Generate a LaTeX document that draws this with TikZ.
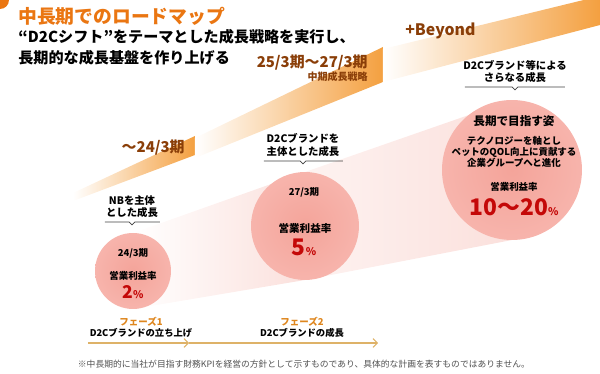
\documentclass[tikz,border=0pt]{standalone}
\usepackage{fontspec}
\setmainfont{Noto Sans CJK JP}
\usetikzlibrary{arrows.meta}

\definecolor{titleorange}{RGB}{234,118,18}
\definecolor{bandorange}{RGB}{244,160,64}
\definecolor{bandbrown}{RGB}{138,62,8}
\definecolor{phaseorange}{RGB}{222,134,30}
\definecolor{phaseline}{RGB}{222,178,104}
\definecolor{circin}{RGB}{244,164,154}
\definecolor{circout}{RGB}{247,180,172}
\definecolor{beampink}{RGB}{251,224,220}
\definecolor{pctred}{RGB}{196,8,8}
\definecolor{notegray}{RGB}{80,80,80}

\tikzset{
  txt/.style={inner sep=0pt, font=\bfseries},
  lbl/.style={txt, align=center, font=\bfseries\fontsize{5.9}{6.9}\selectfont},
  bandlbl/.style={txt, text=bandbrown, anchor=east, font=\bfseries\fontsize{8.5}{9}\selectfont},
  stage/.style={circle, inner sep=0pt, shading=radial, inner color=circin, outer color=circout},
  small/.style={txt, font=\bfseries\fontsize{5.4}{6.3}\selectfont, align=center},
  pct/.style={txt, text=pctred},
  notch/.style={draw=black!75, line width=0.4pt},
  phasearrow/.style={draw=phaseline, line width=0.6pt, -{Straight Barb[length=2.4pt,width=5pt]}},
}

\newcommand{\pcttext}[2]{{\fontsize{#1}{#1}\selectfont #2}{\fontsize{6}{6}\selectfont\%}}

\begin{document}
\begin{tikzpicture}[x=0.02cm,y=-0.02cm]
    \useasboundingbox (0,0) rectangle (600,374);
    \clip (0,0) rectangle (600,374);

    % corner mark
    \fill[titleorange] (0,0) circle (9);

    % orange period bands
    \shade[left color=white, right color=bandorange] (73,193) -- (195,136) -- (195,155) -- (73,201) -- cycle;
    \shade[left color=white, right color=bandorange] (195,138) -- (383,47) -- (383,82) -- (195,158) -- cycle;
    \shade[left color=white, right color=bandorange] (383,49) -- (600,-4) -- (600,25) -- (383,82) -- cycle;

    % pink beams between stages
    \shade[left color=white, right color=beampink] (133,233) -- (305,172) -- (305,280) -- (133,309) -- cycle;
    \shade[left color=beampink!40, right color=beampink] (305,172) -- (512,100) -- (512,240) -- (305,280) -- cycle;

    % stage circles
    \node[stage, minimum size=1.52cm] (c1) at (133,271) {};
    \node[stage, minimum size=2.16cm] (c2) at (305,226) {};
    \node[stage, minimum size=2.80cm] (c3) at (512,170) {};

    % title
    \node[txt, anchor=west, text=titleorange, font=\bfseries\fontsize{10.7}{12}\selectfont] (title) at (18,16.5) {中長期でのロードマップ};
    \node[txt, anchor=west, font=\bfseries\fontsize{8.6}{10}\selectfont] (sub1) at (18,37) {“D2Cシフト”をテーマとした成長戦略を実行し、};
    \node[txt, anchor=west, font=\bfseries\fontsize{8.6}{10}\selectfont] (sub2) at (18,58) {長期的な成長基盤を作り上げる};

    % band labels
    \node[bandlbl] (b1) at (185,148) {～24/3期};
    \node[bandlbl] (b2) at (368,63) {25/3期～27/3期};
    \node[bandlbl, font=\bfseries\fontsize{5.7}{6}\selectfont] (b2s) at (368,77) {中期成長戦略};
    \node[bandlbl, anchor=west, font=\bfseries\fontsize{9}{10}\selectfont] (b3) at (405,31) {+Beyond};

    % growth labels
    \node[lbl] (l1) at (132,207) {NBを主体\\とした成長};
    \draw[notch] (105,222) -- (129,222) -- (132,225) -- (135,222) -- (160,222);
    \node[lbl] (l2) at (303,145) {D2Cブランドを\\主体とした成長};
    \draw[notch] (264,161) -- (300,161) -- (303,164) -- (306,161) -- (343,161);
    \node[lbl] (l3) at (515,71.5) {D2Cブランド等による\\さらなる成長};
    \draw[notch] (465,87) -- (512,87) -- (515,90) -- (518,87) -- (565,87);

    % stage 1
    \node[small] (y1) at (133,253) {24/3期};
    \node[small] (r1) at (133,276) {営業利益率};
    \node[pct] (v1) at (133,292) {\pcttext{10}{2}};

    % stage 2
    \node[small] (y2) at (304,192) {27/3期};
    \node[small, font=\bfseries\fontsize{6}{7}\selectfont] (r2) at (305,228) {営業利益率};
    \node[pct] (v2) at (304,247) {\pcttext{13}{5}};

    % stage 3
    \node[txt, font=\bfseries\fontsize{6.6}{7}\selectfont] (g3) at (514,121) {長期で目指す姿};
    \node[small] (d3) at (514,152) {テクノロジーを軸とし\\ペットのQOL向上に貢献する\\企業グループへと進化};
    \node[small] (r3) at (514,187) {営業利益率};
    \node[pct] (v3) at (514,207) {\pcttext{13}{10～20}};

    % phases
    \node[txt, text=phaseorange, font=\bfseries\fontsize{5.4}{6}\selectfont] (f1) at (141,322) {フェーズ1};
    \node[txt, font=\bfseries\fontsize{5.3}{6}\selectfont] (f1d) at (141,333) {D2Cブランドの立ち上げ};
    \node[txt, text=phaseorange, font=\bfseries\fontsize{5.4}{6}\selectfont] (f2) at (302,322) {フェーズ2};
    \node[txt, font=\bfseries\fontsize{5.3}{6}\selectfont] (f2d) at (302,333) {D2Cブランドの成長};
    \coordinate (p0) at (88,343);
    \coordinate (p1) at (189,343);
    \coordinate (p2) at (378,343);
    \draw[phasearrow] (p0) -- (p1);
    \draw[phasearrow] (p1) -- (p2);

    % footnote
    \node[txt, text=notegray, font=\fontsize{5}{6}\selectfont] (note) at (304,364) {※中長期的に当社が目指す財務KPIを経営の方針として示すものであり、具体的な計画を表すものではありません。};
\end{tikzpicture}
\end{document}
